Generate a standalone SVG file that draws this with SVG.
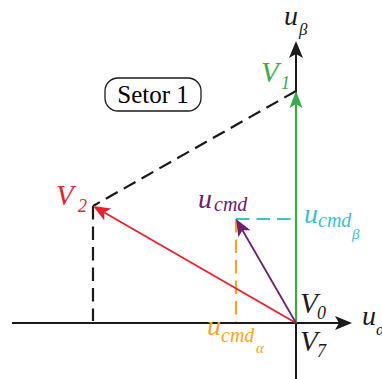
<svg xmlns="http://www.w3.org/2000/svg" width="382" height="379" viewBox="0 0 382 379">
<style>
.m{font-family:"Liberation Serif","DejaVu Serif",serif;font-style:italic}
.ax{stroke:#1a1a1a;stroke-width:2;fill:none}
.dash{stroke-width:2.2;fill:none;stroke-dasharray:13.5 7}
</style>
<defs>
<marker id="ak" viewBox="-18 -8 20 16" markerWidth="20" markerHeight="16" refX="-13" refY="0" orient="auto" markerUnits="userSpaceOnUse"><path d="M0,0 L-17,-7 L-13,0 L-17,7 Z" fill="#1a1a1a"/></marker>
<marker id="ag" viewBox="-18 -8 20 16" markerWidth="20" markerHeight="16" refX="-13" refY="0" orient="auto" markerUnits="userSpaceOnUse"><path d="M0,0 L-17,-6.5 L-13,0 L-17,6.5 Z" fill="#3aaa4a"/></marker>
<marker id="ar" viewBox="-18 -8 20 16" markerWidth="20" markerHeight="16" refX="-13" refY="0" orient="auto" markerUnits="userSpaceOnUse"><path d="M0,0 L-17,-7 L-13,0 L-17,7 Z" fill="#e8222b"/></marker>
<marker id="ap" viewBox="-18 -8 20 16" markerWidth="20" markerHeight="16" refX="-13" refY="0" orient="auto" markerUnits="userSpaceOnUse"><path d="M0,0 L-17,-7 L-13,0 L-17,7 Z" fill="#6b2070"/></marker>
</defs>
<g id="connectors">
<line class="dash" x1="296" y1="91" x2="93" y2="206" stroke="#1a1a1a"/>
<line class="dash" x1="93" y1="206" x2="93" y2="321" stroke="#1a1a1a"/>
<line class="dash" x1="236" y1="219" x2="236" y2="323" stroke="#f5a524"/>
<line class="dash" x1="236" y1="219" x2="293" y2="219" stroke="#3cc2c8"/>
<line class="ax" x1="12" y1="323" x2="339" y2="323" marker-end="url(#ak)"/>
<line class="ax" x1="296" y1="379" x2="296" y2="54" marker-end="url(#ak)"/>
<line x1="296" y1="323" x2="296" y2="104" stroke="#3aaa4a" stroke-width="2.2" marker-end="url(#ag)"/>
<line x1="296" y1="323" x2="104.3" y2="212.5" stroke="#e8222b" stroke-width="1.8" marker-end="url(#ar)"/>
<line x1="296" y1="323" x2="242.5" y2="230.3" stroke="#6b2070" stroke-width="1.8" marker-end="url(#ap)"/>
</g>
<g id="setor">
<rect x="105" y="78" width="96" height="33" rx="13" fill="#fff" stroke="#1a1a1a" stroke-width="1.3"/>
<text x="153" y="103" text-anchor="middle" font-family="Liberation Serif, serif" font-size="25">Setor 1</text>
</g>
<g id="u_beta"><text class="m" x="284" y="25" font-size="28" fill="#1a1a1a">u</text><text class="m" x="299" y="35" font-size="17" fill="#1a1a1a">β</text></g>
<g id="u_alpha"><text class="m" x="362" y="325" font-size="28" fill="#1a1a1a">u</text><text class="m" x="376" y="335" font-size="17" fill="#1a1a1a">α</text></g>
<g id="V1" fill="#3aaa4a"><text class="m" x="261" y="82" font-size="29">V</text><text class="m" x="281" y="89" font-size="18">1</text></g>
<g id="V2" fill="#e8222b"><text class="m" x="56" y="205" font-size="29">V</text><text class="m" x="78" y="212" font-size="18">2</text></g>
<g id="V0" fill="#1a1a1a"><text class="m" x="300" y="313" font-size="29">V</text><text class="m" x="317" y="319" font-size="18">0</text></g>
<g id="V7" fill="#1a1a1a"><text class="m" x="300" y="351" font-size="29">V</text><text class="m" x="317" y="357" font-size="18">7</text></g>
<g id="ucmd" fill="#6b2070"><text class="m" x="198" y="208" font-size="28">u</text><text class="m" x="214" y="211" font-size="20">cmd</text></g>
<g id="ucmd_beta" fill="#3cc2c8"><text class="m" x="304" y="223" font-size="28">u</text><text class="m" x="318" y="227" font-size="20">cmd</text><text class="m" x="352" y="239" font-size="15">β</text></g>
<g id="ucmd_alpha" fill="#f5a524"><text class="m" x="207" y="335" font-size="28">u</text><text class="m" x="221" y="342" font-size="20">cmd</text><text class="m" x="256" y="353" font-size="15">α</text></g>
</svg>
